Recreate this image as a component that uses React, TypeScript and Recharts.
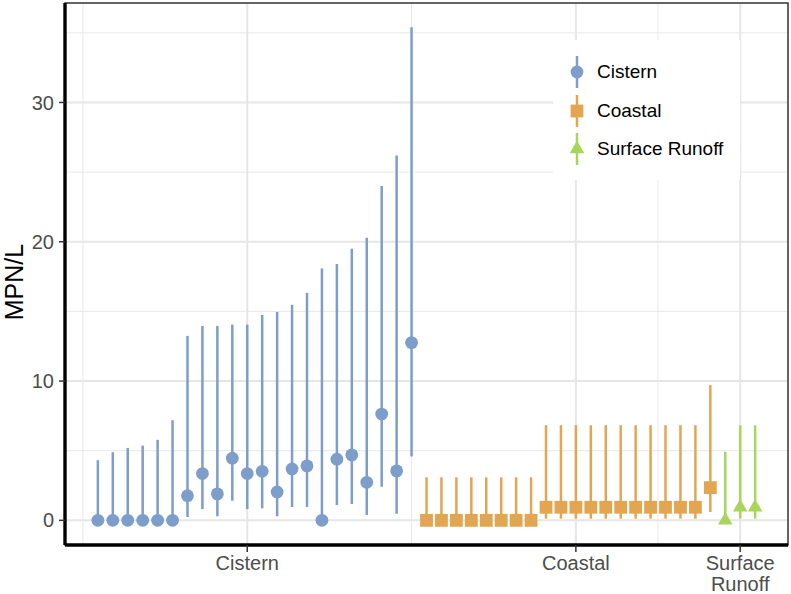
import React from 'react';
import {
  ComposedChart, Scatter, ErrorBar, XAxis, YAxis, CartesianGrid, ReferenceArea, Legend,
} from 'recharts';

// ---- data ----
const cisternY = [0, 0, 0, 0, 0, 0, 1.77, 3.36, 1.9, 4.46, 3.36, 3.52, 2.04, 3.69, 3.91, 0, 4.39, 4.7, 2.73, 7.63, 3.55, 12.76];
const cisternLow = [0, 0, 0, 0, 0, 0, 0.24, 0.81, 0.29, 1.41, 0.81, 0.86, 0.29, 0.96, 0.96, 0, 1.1, 1.17, 0.38, 2.42, 0.48, 4.58];
const cisternHigh = [4.32, 4.89, 5.2, 5.37, 5.78, 7.19, 13.24, 13.96, 13.96, 14.05, 14.05, 14.75, 14.96, 15.47, 16.33, 18.08, 18.4, 19.5, 20.29, 24.0, 26.2, 35.4];

const coastalY = [0, 0, 0, 0, 0, 0, 0, 0, 0.94, 0.94, 0.94, 0.94, 0.94, 0.94, 0.94, 0.94, 0.94, 0.94, 0.94, 2.35];
const coastalLow = [0, 0, 0, 0, 0, 0, 0, 0, 0.12, 0.12, 0.12, 0.12, 0.12, 0.12, 0.12, 0.12, 0.12, 0.12, 0.12, 0.6];
const coastalHigh = [3.09, 3.09, 3.09, 3.09, 3.09, 3.09, 3.09, 3.09, 6.83, 6.83, 6.83, 6.83, 6.83, 6.83, 6.83, 6.83, 6.83, 6.83, 6.83, 9.71];

const runoffY = [0, 0.94, 0.94];
const runoffLow = [0, 0.12, 0.12];
const runoffHigh = [4.92, 6.83, 6.83];

const groupNames = ['Cistern', 'Coastal', 'Surface Runoff'];
const xTickValues = [10, 32, 43];
const xTickLabels = ['Cistern', 'Coastal', 'Surface\nRunoff'];
const xMinorValues = [-1, 21, 37.5];
const yTickValues = [0, 10, 20, 30];
const yMinorValues = [5, 15, 25, 35];
const yTitle = 'MPN/L';

const COLORS = ['#7d9dca', '#e2a653', '#a9d55b'];
const FONT = '"Liberation Sans", Arial, sans-serif';

function build(ys: number[], lows: number[], highs: number[], start: number) {
  return ys.map((y, i) => ({
    x: start + i,
    y,
    err: [y - lows[i], highs[i] - y],
  }));
}

const cisternData = build(cisternY, cisternLow, cisternHigh, 0);
const coastalData = build(coastalY, coastalLow, coastalHigh, cisternY.length);
const runoffData = build(runoffY, runoffLow, runoffHigh, cisternY.length + coastalY.length);

const Circle = (p: any) => <circle cx={p.cx} cy={p.cy} r={6.4} fill={COLORS[0]} />;
const Square = (p: any) => <rect x={p.cx - 6.4} y={p.cy - 6.4} width={12.8} height={12.8} fill={COLORS[1]} />;
const Triangle = (p: any) => {
  const s = 14.5;
  const h = s * Math.sqrt(3) / 2;
  const top = p.cy - (2 * h) / 3;
  const bot = p.cy + h / 3;
  return <polygon points={`${p.cx},${top} ${p.cx - s / 2},${bot} ${p.cx + s / 2},${bot}`} fill={COLORS[2]} />;
};

const XTick = (props: any) => {
  const { x, y, payload } = props;
  const idx = xTickValues.indexOf(payload.value);
  const lines = (xTickLabels[idx] || '').split('\n');
  return (
    <text x={x} y={y} textAnchor="middle" fill="#4d4d4d" fontSize={20} fontFamily={FONT}>
      {lines.map((l, i) => (
        <tspan key={i} x={x} dy={i === 0 ? 15 : 21}>{l}</tspan>
      ))}
    </text>
  );
};

const YTitle = (props: any) => {
  const vb = props.viewBox || {};
  const cy = (vb.y || 0) + (vb.height || 0) / 2 + 8;
  const cx = 14;
  return (
    <text x={cx} y={cy} transform={`rotate(-90 ${cx} ${cy})`} textAnchor="middle" dominantBaseline="central"
      fontSize={25} fontFamily={FONT} fill="#000">{yTitle}</text>
  );
};

const LegendIcon = ({ i }: { i: number }) => {
  const c = COLORS[i];
  return (
    <svg width={20} height={32} style={{ position: 'absolute', left: 4, top: -16 }}>
      <line x1={10} y1={0} x2={10} y2={32} stroke={c} strokeWidth={2.5} />
      {i === 0 && <circle cx={10} cy={16} r={6.4} fill={c} />}
      {i === 1 && <rect x={3.6} y={9.6} width={12.8} height={12.8} fill={c} />}
      {i === 2 && <polygon points={`10,7.6 2.75,20.2 17.25,20.2`} fill={c} />}
    </svg>
  );
};

const LegendContent = () => (
  <div style={{ position: 'relative', width: 187, height: 140, background: '#ffffff' }}>
    {groupNames.map((n, i) => (
      <div key={n} style={{ position: 'absolute', left: 10, top: 32 + i * 38.5, height: 0 }}>
        <LegendIcon i={i} />
        <span style={{
          position: 'absolute', left: 34, top: -11, fontFamily: FONT, fontSize: 19,
          color: '#000', whiteSpace: 'nowrap', lineHeight: '22px',
        }}>{n}</span>
      </div>
    ))}
  </div>
);

export default function App() {
  return (
    <div style={{ position: 'absolute', left: 0, top: 0, width: 791, height: 594, background: '#fff' }}>
      <ComposedChart width={791} height={594} data={cisternData} margin={{ top: 3, right: 3, bottom: 0, left: 0 }}>
        <CartesianGrid stroke="#e8e8e8" strokeWidth={1} horizontalValues={yMinorValues} verticalValues={xMinorValues} />
        <CartesianGrid stroke="#e6e6e6" strokeWidth={2} horizontalValues={yTickValues} verticalValues={xTickValues} />
        <ReferenceArea x1={-2.2} x2={46.2} y1={-1.77} y2={37.14} fill="none" stroke="#333333" strokeWidth={1.5} ifOverflow="visible" />
        <XAxis
          dataKey="x" type="number" domain={[-2.2, 46.2]} allowDataOverflow
          ticks={xTickValues} tick={<XTick />} height={49}
          axisLine={{ stroke: '#000', strokeWidth: 3.4 }} tickLine={{ stroke: '#333', strokeWidth: 1.5 }}
          tickSize={7} tickMargin={3} interval={0}
        />
        <YAxis
          type="number" domain={[-1.77, 37.14]} allowDataOverflow ticks={yTickValues} width={65}
          axisLine={{ stroke: '#000', strokeWidth: 3.4 }} tickLine={{ stroke: '#333', strokeWidth: 1.5 }}
          tickSize={6} tickMargin={5} tick={{ fill: '#4d4d4d', fontSize: 20, fontFamily: FONT }}
          label={<YTitle />}
        />
        <Legend
          layout="vertical" align="center" verticalAlign="middle"
          wrapperStyle={{ position: 'absolute', left: 553, top: 40, width: 187, height: 140 }}
          content={<LegendContent />}
        />
        <Scatter data={cisternData} dataKey="y" name="Cistern" shape={<Circle />} isAnimationActive={false}>
          <ErrorBar dataKey="err" direction="y" width={0} stroke={COLORS[0]} strokeWidth={2.5} isAnimationActive={false} />
        </Scatter>
        <Scatter data={coastalData} dataKey="y" name="Coastal" shape={<Square />} isAnimationActive={false}>
          <ErrorBar dataKey="err" direction="y" width={0} stroke={COLORS[1]} strokeWidth={2.5} isAnimationActive={false} />
        </Scatter>
        <Scatter data={runoffData} dataKey="y" name="Surface Runoff" shape={<Triangle />} isAnimationActive={false}>
          <ErrorBar dataKey="err" direction="y" width={0} stroke={COLORS[2]} strokeWidth={2.5} isAnimationActive={false} />
        </Scatter>
      </ComposedChart>
    </div>
  );
}
